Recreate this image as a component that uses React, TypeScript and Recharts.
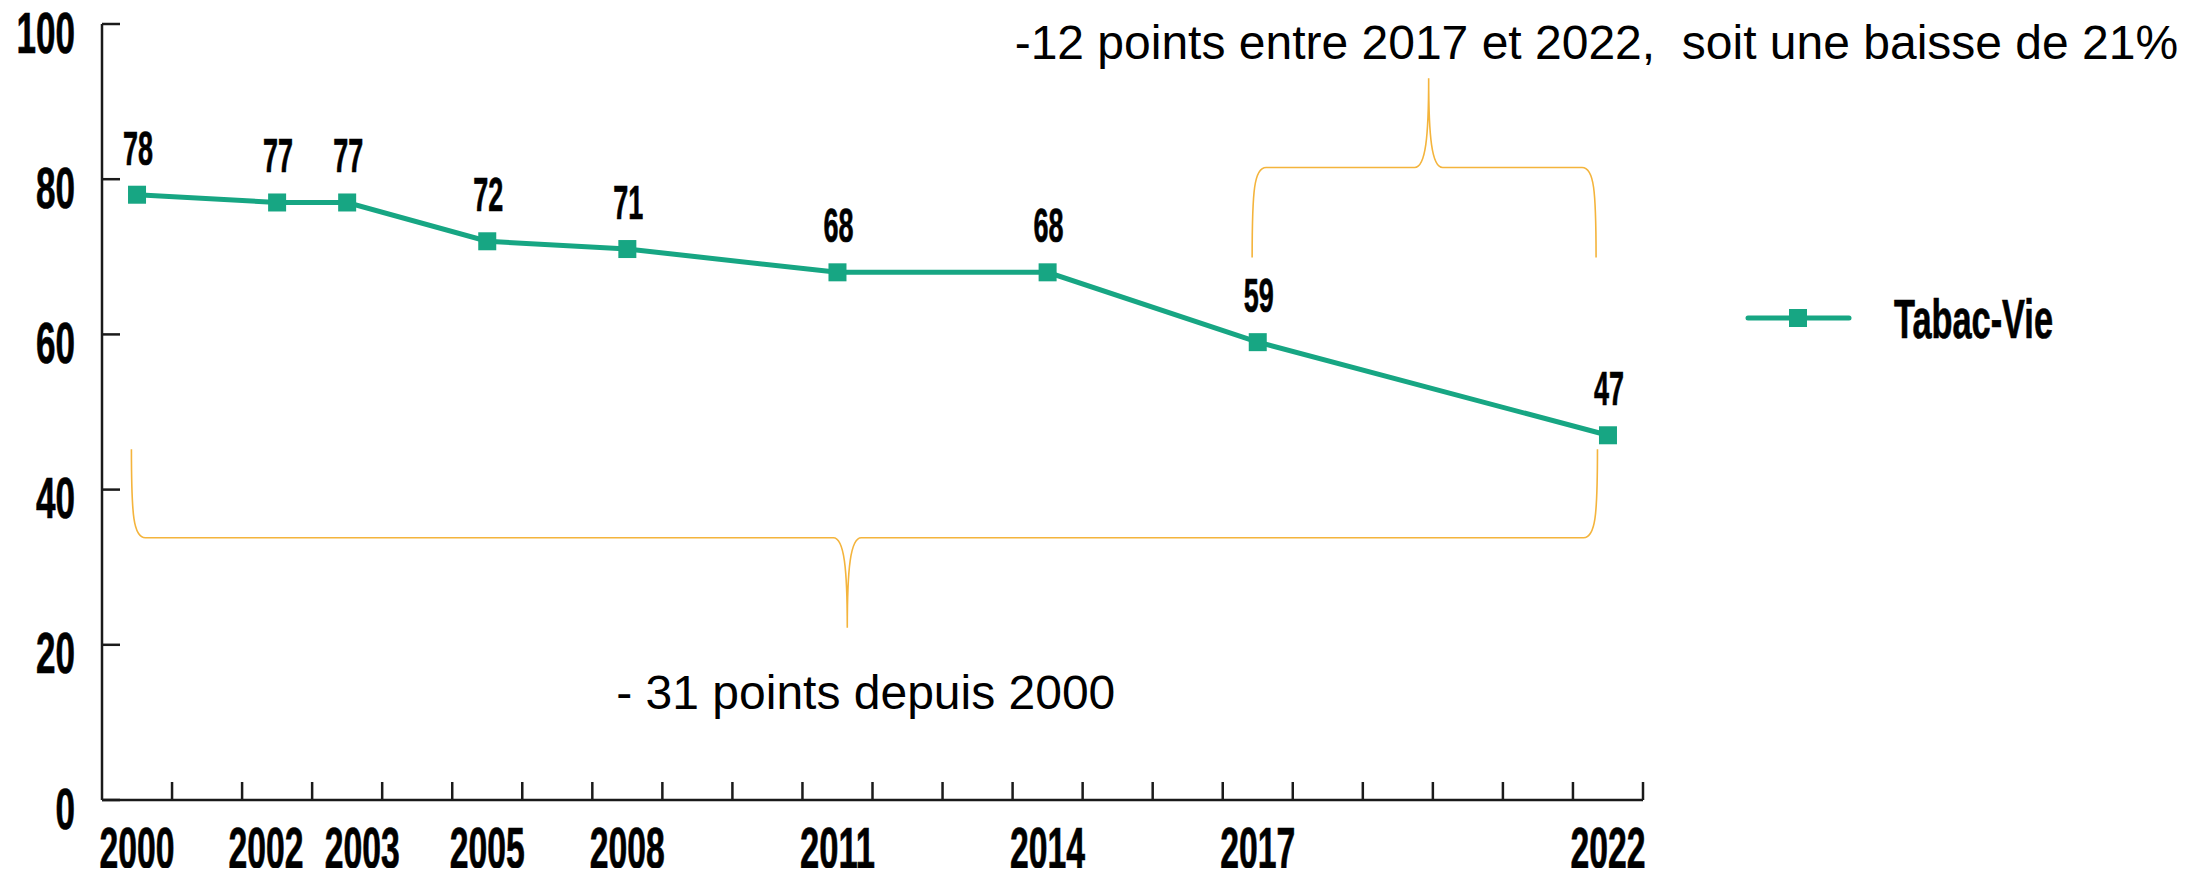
import React from 'react';
import { LineChart, Line, XAxis, YAxis, ReferenceLine, Legend } from 'recharts';

// ---- data ----
const yearLabels = ['2000', '2002', '2003', '2005', '2008', '2011', '2014', '2017', '2022'];
const yearSlots = [0, 2, 3, 5, 7, 10, 13, 16, 21];
const tabacVie = [78, 77, 77, 72, 71, 68, 68, 59, 47];
const yTicks = [0, 20, 40, 60, 80, 100];
const SLOT_COUNT = 22;

// annotation braces (data coordinates): [xStart, xEnd, xTip, yEnd, yFlat, yTip]
const braceBottom = [-0.08, 20.85, 10.14, 45.2, 33.8, 22.2];
const braceTop = [15.92, 20.83, 18.44, 69.9, 81.5, 93.0];
const textBottom = '- 31 points depuis 2000';
const textTop = '-12 points entre 2017 et 2022,  soit une baisse de 21%';

const data = yearSlots.map((slot, i) => ({ slot, year: yearLabels[i], value: tabacVie[i] }));
const xTicks = Array.from({ length: SLOT_COUNT * 2 }, (_, k) => k / 2);

const GREEN = '#17a683';
const GOLD = '#f4b43c';
const AXIS = '#1a1a1a';
const COND = "'Liberation Sans Narrow', 'Liberation Sans', Arial, sans-serif";
const PLAIN = "'Liberation Sans', Arial, sans-serif";

// condensed bold text, width forced; anchor handled manually (start-anchored)
function CondText({ x, y, text, size, width, anchor = 'middle' }: any) {
  const sx = anchor === 'middle' ? x - width / 2 : anchor === 'end' ? x - width : x;
  return (
    <text
      x={sx}
      y={y}
      fontFamily={COND}
      fontWeight={700}
      fontSize={size}
      fill="#000"
      stroke="#000"
      strokeWidth={0.7}
      textAnchor="start"
      textLength={width}
      lengthAdjust="spacingAndGlyphs"
    >
      {text}
    </text>
  );
}

const YTick = (props: any) => {
  const { x, y, payload } = props;
  const s = String(payload.value);
  return (
    <g>
      <line x1={x} x2={x + 18} y1={y} y2={y} stroke={AXIS} strokeWidth={2.5} />
      <CondText x={x - 27} y={y + 28.5} text={s} size={58} width={19.5 * s.length} anchor="end" />
    </g>
  );
};

const XTick = (props: any) => {
  const { x, y, payload } = props;
  const v = payload.value;
  if (!Number.isInteger(v)) {
    return <line x1={x} x2={x} y1={y} y2={y - 18} stroke={AXIS} strokeWidth={2.5} />;
  }
  const i = yearSlots.indexOf(v);
  if (i < 0) return <g />;
  // nudge labels of adjacent slots apart so they do not collide
  let dx = 0;
  if (i > 0 && yearSlots[i] - yearSlots[i - 1] === 1) dx += 15;
  if (i < yearSlots.length - 1 && yearSlots[i + 1] - yearSlots[i] === 1) dx -= 11;
  return <CondText x={x + dx} y={y + 67.5} text={yearLabels[i]} size={57} width={75} />;
};

const renderDot = (props: any) => {
  const { cx, cy, index } = props;
  return <rect key={`d${index}`} x={cx - 9} y={cy - 9} width={18} height={18} fill={GREEN} />;
};

const renderLabel = (props: any) => {
  const { x, y, value, index } = props;
  const s = String(value);
  return (
    <g key={`l${index}`}>
      <CondText x={x + 1} y={y - 30} text={s} size={48} width={15 * s.length} />
    </g>
  );
};

function makeBrace(spec: number[], text: string, tdx: number, tdy: number) {
  const [xStart, xEnd, xTip, yEnd, yFlat, yTip] = spec;
  return (props: any) => {
    const { x1, y1, x2, y2 } = props;
    const fy = y1 + ((y2 - y1) * (yFlat - yEnd)) / (yTip - yEnd);
    const tx = x1 + ((x2 - x1) * (xTip - xStart)) / (xEnd - xStart);
    const ty = y2;
    const r = 14;
    const r2 = 14;
    const ey = y1 + (fy - y1) * 0.75;
    const ky = fy + (ty - fy) * 0.35;
    const d =
      `M ${x1} ${y1} C ${x1} ${ey} ${x1 + 2} ${fy} ${x1 + r} ${fy} ` +
      `L ${tx - r2} ${fy} C ${tx - 3} ${fy} ${tx} ${ky} ${tx} ${ty} ` +
      `C ${tx} ${ky} ${tx + 3} ${fy} ${tx + r2} ${fy} ` +
      `L ${x2 - r} ${fy} C ${x2 - 2} ${fy} ${x2} ${ey} ${x2} ${y1}`;
    return (
      <g>
        <path d={d} fill="none" stroke={GOLD} strokeWidth={1.6} />
        <text
          x={tx + tdx}
          y={ty + tdy}
          fontFamily={PLAIN}
          fontSize={48}
          fill="#000"
          style={{ whiteSpace: 'pre' }}
        >
          {text}
        </text>
      </g>
    );
  };
}

const bottomBraceShape = makeBrace(braceBottom, textBottom, -231, 81);
const topBraceShape = makeBrace(braceTop, textTop, -414, -19);

const LegendContent = (props: any) => {
  const item = (props.payload && props.payload[0]) || { value: 'Tabac-Vie', color: GREEN };
  return (
    <svg width={420} height={110} style={{ display: 'block' }}>
      <line x1={40} x2={141} y1={50} y2={50} stroke={item.color || GREEN} strokeWidth={5} strokeLinecap="round" />
      <rect x={81} y={41} width={18} height={18} fill={item.color || GREEN} />
      <CondText x={186} y={70} text={item.value} size={56} width={159} anchor="start" />
    </svg>
  );
};

export default function App() {
  return (
    <LineChart
      width={2190}
      height={860}
      data={data}
      margin={{ top: 16, right: 555, bottom: 8, left: 0 }}
    >
      <XAxis
        dataKey="slot"
        type="number"
        domain={[-0.5, SLOT_COUNT - 0.5]}
        ticks={xTicks}
        interval={0}
        tickSize={0}
        tickMargin={0}
        tickLine={false}
        height={60}
        axisLine={{ stroke: AXIS, strokeWidth: 2.5 }}
        tick={XTick}
      />
      <YAxis
        type="number"
        domain={[0, 100]}
        ticks={yTicks}
        interval={0}
        tickSize={0}
        tickMargin={0}
        tickLine={false}
        width={94}
        axisLine={{ stroke: AXIS, strokeWidth: 2.5 }}
        tick={YTick}
      />
      <ReferenceLine
        segment={[{ x: braceBottom[0], y: braceBottom[3] }, { x: braceBottom[1], y: braceBottom[5] }]}
        ifOverflow="visible"
        shape={bottomBraceShape}
      />
      <ReferenceLine
        segment={[{ x: braceTop[0], y: braceTop[3] }, { x: braceTop[1], y: braceTop[5] }]}
        ifOverflow="visible"
        shape={topBraceShape}
      />
      <Line
        dataKey="value"
        name="Tabac-Vie"
        stroke={GREEN}
        strokeWidth={5}
        isAnimationActive={false}
        dot={renderDot}
        activeDot={false}
        label={renderLabel}
      />
      <Legend
        layout="vertical"
        align="center"
        verticalAlign="middle"
        wrapperStyle={{ position: 'absolute', left: 1700, top: 260, width: 420, height: 110 }}
        content={LegendContent}
      />
    </LineChart>
  );
}
